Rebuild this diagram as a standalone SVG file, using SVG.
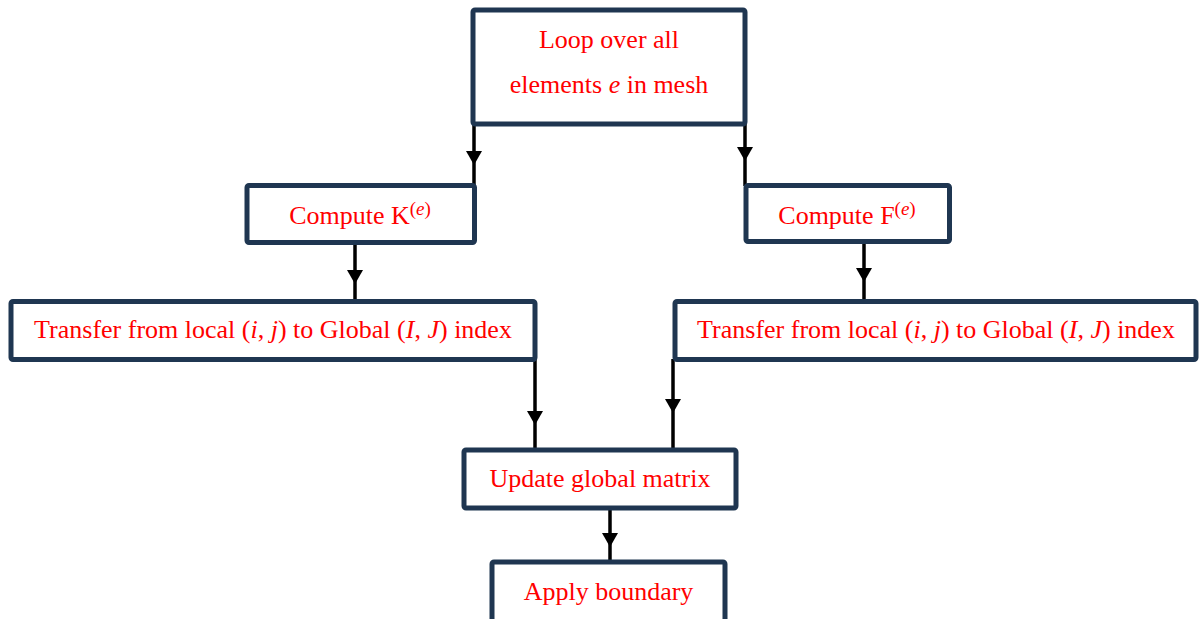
<svg xmlns="http://www.w3.org/2000/svg" width="1199" height="619" viewBox="0 0 1199 619">
  <style>
    .box { fill: #ffffff; stroke: #1f3651; stroke-width: 5; }
    .lbl { font-family: "Liberation Serif", "Times New Roman", serif; font-size: 26px; fill: #ff0000; text-anchor: middle; }
    .it { font-style: italic; }
    .sup { font-size: 19px; }
    .wire { fill: none; stroke: #000000; stroke-width: 3.5; marker-mid: url(#head); }
  </style>
  <defs>
    <marker id="head" viewBox="0 0 14 16" refX="14" refY="8" markerWidth="14" markerHeight="16" markerUnits="userSpaceOnUse" orient="auto">
      <path d="M0,0 L14,8 L0,16 Z" fill="#000000"/>
    </marker>
  </defs>

  <!-- connectors: each path carries its arrowhead on the middle vertex -->
  <g id="connectors">
    <path class="wire" d="M474,124 L474,165 L474,186"/>
    <path class="wire" d="M745,124 L745,161 L745,186"/>
    <path class="wire" d="M355,242 L355,284 L355,302"/>
    <path class="wire" d="M864,241 L864,282 L864,302"/>
    <path class="wire" d="M535,359 L535,425 L535,450"/>
    <path class="wire" d="M673,359 L673,413 L673,450"/>
    <path class="wire" d="M610,508 L610,547 L610,562"/>
  </g>

  <g id="loop">
    <rect class="box" x="473" y="10" width="272" height="114" rx="2"/>
    <text class="lbl" x="609" y="48">Loop over all</text>
    <text class="lbl" x="609" y="93">elements <tspan class="it">e</tspan> in mesh</text>
  </g>

  <g id="computeK">
    <rect class="box" x="247" y="185.5" width="227.5" height="57" rx="2"/>
    <text class="lbl" x="360" y="224">Compute K<tspan class="sup" dy="-9">(<tspan class="it">e</tspan>)</tspan></text>
  </g>

  <g id="computeF">
    <rect class="box" x="746" y="185.5" width="203.5" height="56" rx="2"/>
    <text class="lbl" x="847" y="224">Compute F<tspan class="sup" dy="-9">(<tspan class="it">e</tspan>)</tspan></text>
  </g>

  <g id="transferK">
    <rect class="box" x="11" y="301.5" width="524" height="58" rx="2"/>
    <text class="lbl" x="273" y="338">Transfer from local (<tspan class="it">i</tspan>, <tspan class="it">j</tspan>) to Global (<tspan class="it">I</tspan>, <tspan class="it">J</tspan>) index</text>
  </g>

  <g id="transferF">
    <rect class="box" x="675" y="301.5" width="521" height="58" rx="2"/>
    <text class="lbl" x="936" y="338">Transfer from local (<tspan class="it">i</tspan>, <tspan class="it">j</tspan>) to Global (<tspan class="it">I</tspan>, <tspan class="it">J</tspan>) index</text>
  </g>

  <g id="update">
    <rect class="box" x="464" y="450" width="272" height="58" rx="2"/>
    <text class="lbl" x="600" y="487">Update global matrix</text>
  </g>

  <g id="boundary">
    <rect class="box" x="492" y="562" width="233" height="70" rx="2"/>
    <text class="lbl" x="608.5" y="600">Apply boundary</text>
  </g>
</svg>
